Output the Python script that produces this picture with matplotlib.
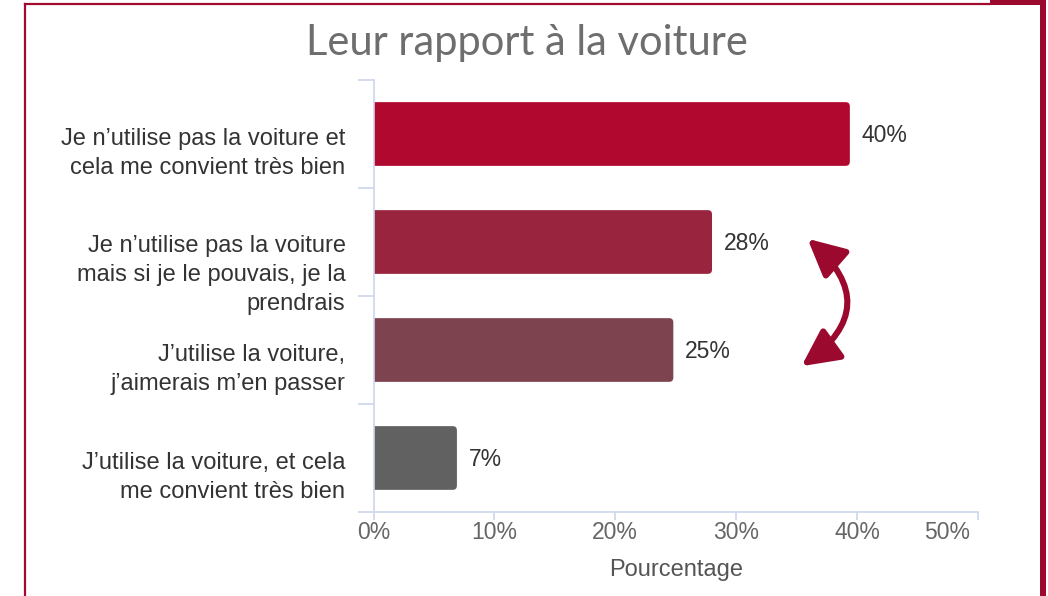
import matplotlib.pyplot as plt
from matplotlib.patches import FancyBboxPatch, Rectangle
from matplotlib.lines import Line2D
from matplotlib.transforms import ScaledTranslation

categories = [
    "Je n\u2019utilise pas la voiture et\ncela me convient très bien",
    "Je n\u2019utilise pas la voiture\nmais si je le pouvais, je la\nprendrais",
    "J\u2019utilise la voiture,\nj\u2019aimerais m\u2019en passer",
    "J\u2019utilise la voiture, et cela\nme convient très bien",
]
values = [39.4, 28.0, 24.8, 6.9]
value_labels = ["40%", "28%", "25%", "7%"]
bar_colors = ["#b1082f", "#98243e", "#7d4450", "#616161"]
x_ticks = [0, 10, 20, 30, 40, 50]
x_tick_labels = ["0%", "10%", "20%", "30%", "40%", "50%"]

W, H = 1048, 596
axis_color = "#ccd6eb"
red = "#a30a30"

plt.rcParams["font.family"] = ["Liberation Sans", "DejaVu Sans"]

fig = plt.figure(figsize=(W / 100, H / 100), dpi=100)
ax = fig.add_axes([373.5 / W, 1 - 512 / H, (978 - 373.5) / W, (512 - 80) / H])

ax.set_xlim(0, 50)
ax.set_ylim(3.5, -0.5)

# bars, then swapped for boxes with rounded ends
bars = ax.barh(range(len(values)), values, height=0.59, color=bar_colors)
aspect = (605 / 50) / 108
for bar in bars:
    x, y = bar.get_x(), bar.get_y()
    w, h = bar.get_width(), bar.get_height()
    bar.set_visible(False)
    box = FancyBboxPatch((x - 1, y), w + 1, h,
                         boxstyle="round,pad=0,rounding_size=0.35",
                         mutation_aspect=aspect,
                         facecolor=bar.get_facecolor(), edgecolor="none")
    ax.add_patch(box)

for i, v in enumerate(values):
    ax.annotate(value_labels[i], xy=(v, i), xytext=(12, -2),
                textcoords="offset pixels", ha="left", va="center",
                fontsize=16.5, color="#333333")

# first line of each label sits on the middle of its band
line_px = 28
for i, lab in enumerate(categories):
    n_extra = lab.count("\n")
    ax.annotate(lab, xy=(0, i), xycoords=("axes fraction", "data"),
                xytext=(-28, -12 - n_extra * line_px),
                textcoords="offset pixels",
                ha="right", va="baseline", multialignment="right",
                linespacing=1.4, fontsize=17, color="#333333")

# axes styling
for side in ["top", "right"]:
    ax.spines[side].set_visible(False)
for side in ["left", "bottom"]:
    ax.spines[side].set_color(axis_color)
    ax.spines[side].set_linewidth(1.2)

ax.set_yticks([-0.5, 0.5, 1.5, 2.5, 3.5])
ax.set_yticklabels([])
ax.tick_params(axis="y", length=16 * 0.72, color=axis_color, width=1.2)

ax.set_xticks(x_ticks, x_tick_labels)
ax.tick_params(axis="x", length=8 * 0.72, color=axis_color, width=1.2,
               labelsize=16.5, labelcolor="#666666", pad=1)
last = ax.get_xticklabels()[-1]
last.set_ha("right")
last.set_transform(last.get_transform() +
                   ScaledTranslation(-0.08, 0, fig.dpi_scale_trans))

ax.set_xlabel("Pourcentage", fontsize=17, color="#555555", labelpad=10.5)

# curved double arrow between the middle bars
ax.annotate("", xy=(35.9, 0.97), xytext=(35.4, 2.15),
            arrowprops=dict(arrowstyle="<|-|>,head_length=1.4,head_width=0.7",
                            connectionstyle="arc3,rad=0.63",
                            color="#9b0a2e", lw=4.4, mutation_scale=16,
                            shrinkA=0, shrinkB=0))

fig.text(527 / W, 1 - 43 / H, "Leur rapport à la voiture",
         ha="center", va="center", fontsize=30, color="#6e6e6e",
         family=["Lato", "DejaVu Sans"])

# frame around the card
fig.add_artist(Line2D([25 / W, 25 / W], [0, 1 - 3.5 / H],
                      transform=fig.transFigure, color=red, lw=1.6))
fig.add_artist(Line2D([25 / W, 990 / W], [1 - 3.5 / H, 1 - 3.5 / H],
                      transform=fig.transFigure, color=red, lw=1.6))
fig.add_artist(Rectangle((990 / W, 1 - 5 / H), 56 / W, 5 / H,
                         transform=fig.transFigure, color="#9b0a2e", lw=0))
fig.add_artist(Rectangle((1040 / W, 0), 6 / W, 1,
                         transform=fig.transFigure, color="#9b0a2e", lw=0))

fig.savefig("out.png", dpi=100)
